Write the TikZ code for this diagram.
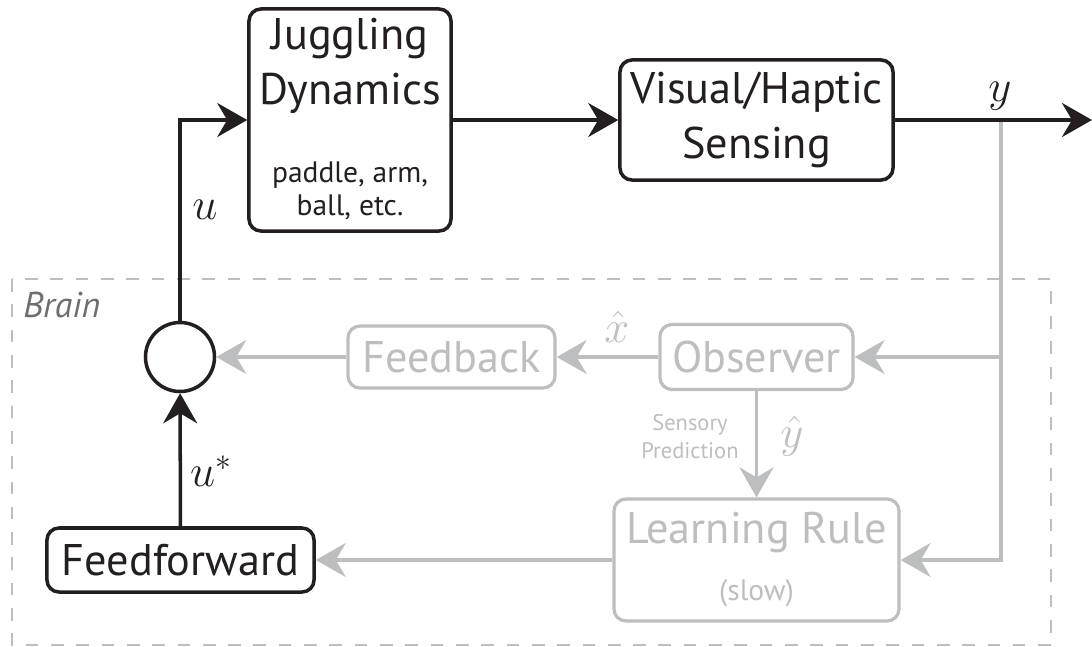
\documentclass[tikz,border=0pt]{standalone}
\usepackage{fix-cm}
\usepackage{fontspec}
\setmainfont{PT Sans}
\usetikzlibrary{arrows.meta}

\definecolor{inkblk}{HTML}{231F20}
\definecolor{paleg}{HTML}{BCBEC0}
\definecolor{braing}{HTML}{6D6E71}

\begin{document}
\begin{tikzpicture}[x=0.025cm, y=-0.025cm,
    tip/.style={-{Stealth[length=0.75cm, width=0.85cm, inset=0.25cm]}},
    blk/.style={draw=inkblk, line width=2.5pt},
    gry/.style={draw=paleg, line width=2.3pt},
    blkbox/.style={blk, rounded corners=0.3cm, inner sep=0pt, text=inkblk, align=center, font=\fontsize{31.5}{39}\selectfont},
    grybox/.style={gry, rounded corners=0.3cm, inner sep=0pt, text=paleg, align=center, font=\fontsize{31.5}{39}\selectfont},
    boxtext/.style={inner sep=0pt, align=center, font=\fontsize{31.5}{39.5}\selectfont},
    notetext/.style={inner sep=0pt, align=center, font=\fontsize{21}{23.5}\selectfont},
    mathlbl/.style={inner sep=0pt, font=\fontsize{32}{38}\selectfont}]
    \useasboundingbox (0,0) rectangle (1092,646);

    % brain frame
    \draw [paleg, line width=1pt, dash pattern=on 9pt off 9pt] (12,279) rectangle (1051,645);
    \node [anchor=base west, inner sep=0pt, text=braing, font=\fontsize{25.5}{30}\selectfont\itshape] (brain) at (23,317) {Brain};

    % plant and sensing
    \node [blkbox, minimum width=5.05cm, minimum height=5.55cm] (jug) at (350,120) {};
    \node [boxtext, text=inkblk] (jugtitle) at (350,66) {Juggling\\Dynamics};
    \node [notetext, text=inkblk] (jugnote) at (350,191) {paddle, arm,\\ball, etc.};
    \node [blkbox, minimum width=6.825cm, minimum height=3cm] (vis) at (756.5,120) {Visual/Haptic\\Sensing};
    \coordinate (yout) at (1092,120);
    \coordinate (tap) at (1001,120);
    \coordinate (tapobs) at (1001,357);

    % brain blocks
    \node [draw=inkblk, line width=2.5pt, circle, minimum size=1.725cm, inner sep=0pt] (sum) at (180,357) {};
    \node [grybox, minimum width=5.175cm, minimum height=1.55cm] (fb) at (451.5,357) {Feedback};
    \node [grybox, minimum width=4.825cm, minimum height=1.625cm] (obs) at (756.5,357) {Observer};
    \node [grybox, minimum width=7.125cm, minimum height=3.05cm] (lr) at (756.5,560) {};
    \node [boxtext, text=paleg] (lrtitle) at (756.5,533) {Learning Rule};
    \node [notetext, text=paleg] (lrnote) at (756.5,593) {(slow)};
    \node [blkbox, minimum width=6.675cm, minimum height=1.6cm] (ff) at (180.5,560) {Feedforward};

    % gray signals
    \draw [gry, tip] (tap) |- (lr);
    \draw [gry, tip] (tapobs) -- (obs);
    \draw [gry, tip] (obs) -- (fb);
    \draw [gry, tip] (fb) -- (sum);
    \draw [gry, tip] (obs) -- (lr);
    \draw [gry, tip] (lr) -- (ff);
    \node [mathlbl, text=paleg] (xhat) at (617,327) {$\hat{x}$};
    \node [mathlbl, text=paleg] (yhat) at (792,436) {$\hat{y}$};
    \node [inner sep=0pt, align=center, text=paleg, font=\fontsize{16}{20}\selectfont] (pred) at (690,437) {Sensory\\Prediction};

    % black signals
    \draw [blk, tip] (jug) -- (vis);
    \draw [blk, tip] (vis) -- (yout);
    \draw [blk, tip] (sum) |- (jug);
    \draw [blk, tip] (ff) -- (sum);
    \node [mathlbl, text=inkblk] (ylbl) at (1000,96) {$y$};
    \node [mathlbl, text=inkblk] (ulbl) at (205,210) {$u$};
    \node [mathlbl, text=inkblk] (ustar) at (211,471) {$u^*$};
\end{tikzpicture}
\end{document}
